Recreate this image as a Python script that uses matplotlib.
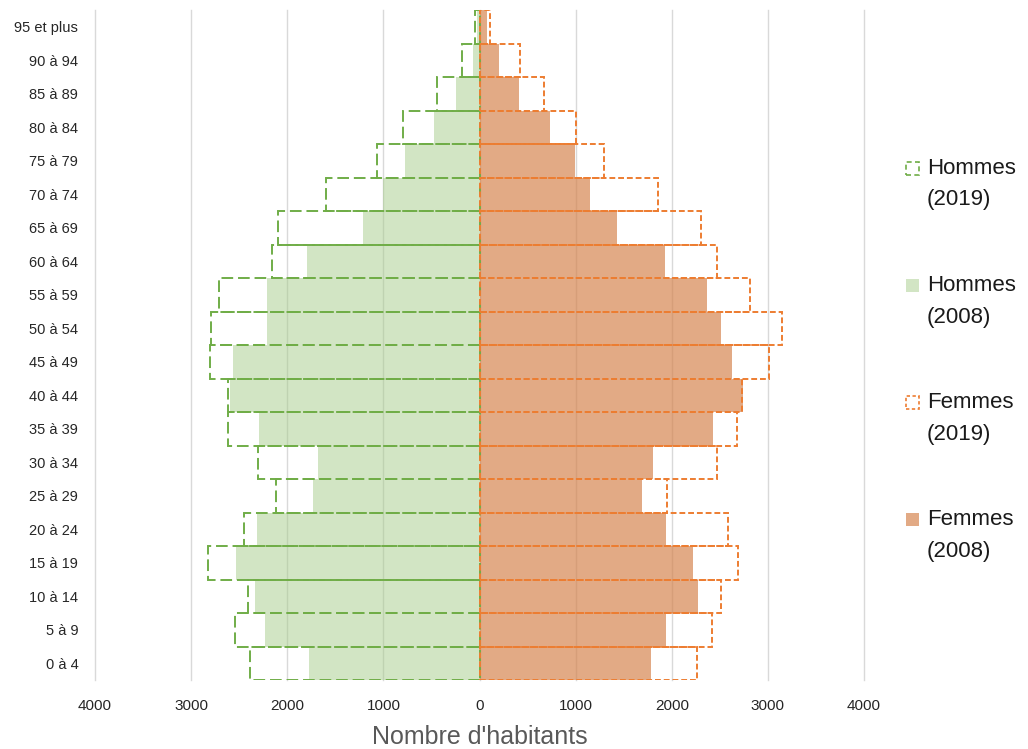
import numpy as np
import matplotlib
matplotlib.use("Agg")
import matplotlib.pyplot as plt
from matplotlib.patches import Rectangle

plt.rcParams['font.family'] = ['Liberation Sans', 'DejaVu Sans']

# age groups, bottom to top
ages = ['0 à 4', '5 à 9', '10 à 14', '15 à 19', '20 à 24', '25 à 29', '30 à 34',
        '35 à 39', '40 à 44', '45 à 49', '50 à 54', '55 à 59', '60 à 64',
        '65 à 69', '70 à 74', '75 à 79', '80 à 84', '85 à 89', '90 à 94', '95 et plus']

hommes_2008 = [1775, 2235, 2335, 2530, 2310, 1735, 1675, 2295, 2595, 2565,
               2215, 2215, 1790, 1215, 1008, 770, 478, 240, 65, 30]
hommes_2019 = [2390, 2540, 2410, 2825, 2445, 2120, 2305, 2620, 2615, 2805,
               2795, 2710, 2155, 2100, 1600, 1070, 800, 447, 180, 45]
femmes_2008 = [1785, 1940, 2270, 2220, 1940, 1690, 1810, 2425, 2745, 2630,
               2515, 2370, 1925, 1435, 1145, 990, 730, 415, 200, 73]
femmes_2019 = [2265, 2420, 2515, 2690, 2585, 1950, 2475, 2680, 2730, 3015,
               3150, 2815, 2475, 2300, 1860, 1290, 1000, 676, 420, 105]

x_ticks = [-4000, -3000, -2000, -1000, 0, 1000, 2000, 3000, 4000]

legend_names = ['Hommes', 'Hommes', 'Femmes', 'Femmes']
legend_years = ['(2019)', '(2008)', '(2019)', '(2008)']

green = '#70ad47'
orange = '#ed7d31'
green_fill = (0.655, 0.804, 0.545, 0.5)
orange_fill = (0.84, 0.525, 0.318, 0.7)
green_dash = (0, (6, 2.5))
orange_dash = (0, (3, 1.5))

W, H = 1028, 749
fig = plt.figure(figsize=(W / 100, H / 100), dpi=100)
ax = fig.add_axes([95 / W, 1 - 680 / H, 769 / W, 670 / H])

y = np.arange(len(ages))

# 2008 filled bars
ax.barh(y, -np.array(hommes_2008), height=1.0, color=green_fill, linewidth=0, zorder=2)
ax.barh(y, femmes_2008, height=1.0, color=orange_fill, linewidth=0, zorder=2)

# 2019 dashed outlines
ax.barh(y, -np.array(hommes_2019), height=1.0, fill=False, edgecolor=green,
        linewidth=1.4, linestyle=green_dash, zorder=3)
ax.barh(y, femmes_2019, height=1.0, fill=False, edgecolor=orange,
        linewidth=1.4, linestyle=orange_dash, zorder=3)

ax.set_xlim(-4000, 4000)
ax.set_ylim(-0.5, len(ages) - 0.5)
ax.set_xticks(x_ticks)
ax.set_xticklabels([str(abs(v)) for v in x_ticks], fontsize=11, color='#262626')
ax.set_yticks(y)
ax.set_yticklabels(ages, fontsize=10.5, color='#262626')
ax.tick_params(axis='x', length=0, pad=14)
ax.tick_params(axis='y', length=0, pad=12)
ax.grid(axis='x', color='#d9d9d9', linewidth=1.0, zorder=1)
ax.set_axisbelow(True)
for gl in ax.get_xgridlines():
    gl.set_clip_on(False)
for s in ax.spines.values():
    s.set_visible(False)

ax.set_xlabel("Nombre d'habitants", fontsize=18, color='#595959', labelpad=8)

# legend drawn at figure level, one entry per series
handle_styles = [
    dict(facecolor='none', edgecolor=green, linestyle=(0, (3, 2)), linewidth=1.2),
    dict(facecolor=green_fill, edgecolor='none'),
    dict(facecolor='none', edgecolor=orange, linestyle=(0, (2, 1.5)), linewidth=1.2),
    dict(facecolor=orange_fill, edgecolor='none'),
]
for i, (name, year) in enumerate(zip(legend_names, legend_years)):
    yc = 168 + i * 117.3
    fig.add_artist(Rectangle((906 / W, 1 - (yc + 6.5) / H), 13 / W, 13 / H,
                             transform=fig.transFigure, **handle_styles[i]))
    fig.text(927 / W, 1 - yc / H, name, fontsize=16, color='#1a1a1a', va='center', ha='left')
    fig.text(927 / W, 1 - (yc + 32) / H, year, fontsize=16, color='#1a1a1a', va='center', ha='left')

fig.savefig('out.png', dpi=100)
